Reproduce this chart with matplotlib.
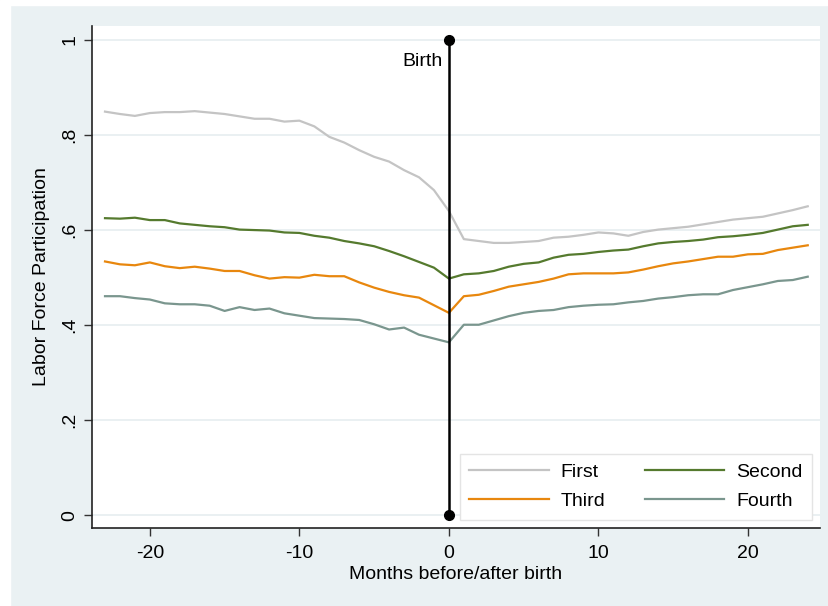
import numpy as np
import matplotlib
matplotlib.use("Agg")
import matplotlib.pyplot as plt
from matplotlib.patches import Rectangle

plt.rcParams['font.family'] = ['Liberation Sans', 'DejaVu Sans']
plt.rcParams['axes.unicode_minus'] = False

# months relative to birth
months = list(range(-23, 25))

# labor force participation by birth order
first = [0.849, 0.844, 0.840, 0.846, 0.848, 0.848, 0.850, 0.847, 0.844, 0.839,
         0.834, 0.834, 0.828, 0.830, 0.818, 0.796, 0.784, 0.768, 0.754, 0.744,
         0.726, 0.711, 0.684, 0.640,
         0.581, 0.577, 0.573, 0.573, 0.575, 0.577, 0.584, 0.586, 0.590, 0.595,
         0.593, 0.588, 0.596, 0.601, 0.604, 0.607, 0.612, 0.617, 0.622, 0.625,
         0.628, 0.635, 0.642, 0.650]
second = [0.625, 0.624, 0.626, 0.621, 0.621, 0.614, 0.611, 0.608, 0.606, 0.601,
          0.600, 0.599, 0.595, 0.594, 0.588, 0.584, 0.577, 0.572, 0.566, 0.556,
          0.545, 0.533, 0.521, 0.498,
          0.507, 0.509, 0.514, 0.523, 0.529, 0.532, 0.542, 0.548, 0.550, 0.554,
          0.557, 0.559, 0.566, 0.572, 0.575, 0.577, 0.580, 0.585, 0.587, 0.590,
          0.594, 0.601, 0.608, 0.611]
third = [0.534, 0.528, 0.526, 0.532, 0.524, 0.520, 0.523, 0.519, 0.514, 0.514,
         0.505, 0.498, 0.501, 0.500, 0.506, 0.503, 0.503, 0.490, 0.479, 0.470,
         0.463, 0.458, 0.442, 0.426,
         0.461, 0.464, 0.472, 0.481, 0.486, 0.491, 0.498, 0.507, 0.509, 0.509,
         0.509, 0.511, 0.517, 0.524, 0.530, 0.534, 0.539, 0.544, 0.544, 0.549,
         0.550, 0.558, 0.563, 0.568]
fourth = [0.461, 0.461, 0.457, 0.454, 0.446, 0.444, 0.444, 0.441, 0.430, 0.438,
          0.432, 0.435, 0.425, 0.420, 0.415, 0.414, 0.413, 0.411, 0.402, 0.391,
          0.395, 0.380, 0.372, 0.364,
          0.401, 0.401, 0.410, 0.419, 0.426, 0.430, 0.432, 0.438, 0.441, 0.443,
          0.444, 0.448, 0.451, 0.456, 0.459, 0.463, 0.465, 0.465, 0.474, 0.480,
          0.486, 0.493, 0.495, 0.502]

series_names = ["First", "Second", "Third", "Fourth"]
series_colors = ["#c4c4c4", "#557a2e", "#e8870e", "#7a968e"]

y_ticks = [0, 0.2, 0.4, 0.6, 0.8, 1]
y_tick_labels = ["0", ".2", ".4", ".6", ".8", "1"]
x_ticks = [-20, -10, 0, 10, 20]

bg = "#eaf1f3"
fig = plt.figure(figsize=(8.29, 6.06), dpi=100, facecolor=bg)
# white strips of the screenshot border
fig.patches.append(Rectangle((0, 0), 10 / 829, 1, transform=fig.transFigure, color="white", zorder=0))
fig.patches.append(Rectangle((0, 1 - 5 / 606), 1, 5 / 606, transform=fig.transFigure, color="white", zorder=0))

ax = fig.add_axes([92 / 829, 1 - 528 / 606, (820 - 92) / 829, (528 - 26) / 606])
ax.set_facecolor("white")

for yv in y_ticks:
    ax.axhline(yv, color="#e6eef0", lw=1.2, zorder=0)

lines = []
for vals, name, col in zip([first, second, third, fourth], series_names, series_colors):
    ln, = ax.plot(months, vals, color=col, lw=1.6, label=name, zorder=3)
    lines.append(ln)

# birth marker
ax.plot([0, 0], [0, 1], color="black", lw=1.8, marker="o", markersize=7, zorder=4)
ax.text(-0.45, 0.955, "Birth", ha="right", va="center", fontsize=14)

ax.set_xlim(-23.87, 24.82)
ax.set_ylim(-0.0263, 1.029)
ax.set_xticks(x_ticks)
ax.set_yticks(y_ticks)
ax.set_yticklabels(y_tick_labels, rotation=90, va="center")
ax.tick_params(axis="both", labelsize=14, length=6, width=1, color="#333333", direction="out")
ax.tick_params(axis="x", pad=6)
ax.tick_params(axis="y", pad=4)
for s in ["top", "right"]:
    ax.spines[s].set_visible(False)
for s in ["left", "bottom"]:
    ax.spines[s].set_color("#222222")
    ax.spines[s].set_linewidth(1.2)

ax.set_xlabel("Months before/after birth", fontsize=14, labelpad=3)
ax.set_ylabel("Labor Force Participation", fontsize=14, labelpad=8)

# column-major fill -> order so rows read First/Second, Third/Fourth
leg = ax.legend(handles=[lines[0], lines[2], lines[1], lines[3]], ncol=2,
                loc="lower right", bbox_to_anchor=(0.989, 0.016), borderaxespad=0,
                fontsize=14, handlelength=4.1, handletextpad=0.6, columnspacing=2.0,
                labelspacing=0.6, borderpad=0.5, fancybox=False, framealpha=1)
leg.get_frame().set_edgecolor("#e4e4e4")
leg.get_frame().set_linewidth(1)

fig.savefig("out.png", dpi=100, facecolor=bg)
